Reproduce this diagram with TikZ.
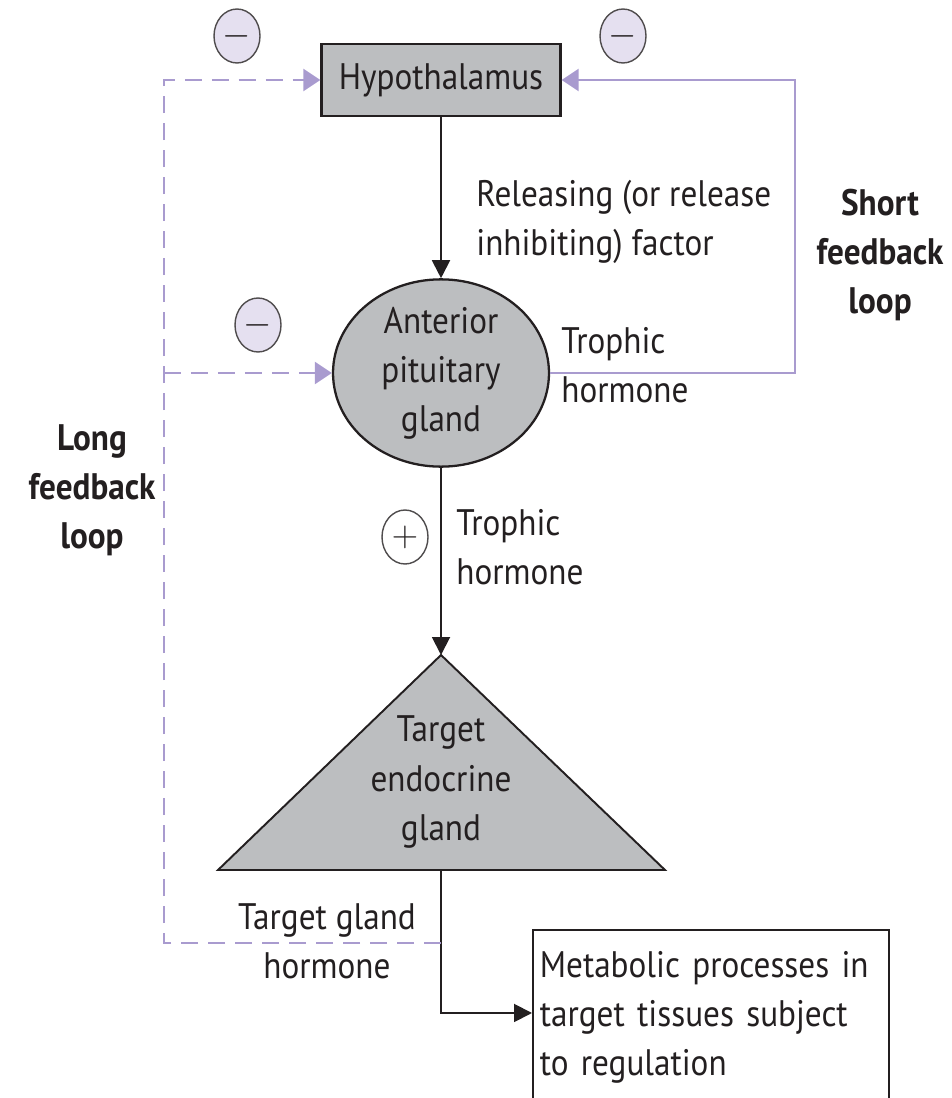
\documentclass[tikz,border=0pt]{standalone}
\usepackage{fontspec}
\setmainfont[FakeStretch=0.9]{PT Sans}
\usetikzlibrary{arrows.meta,positioning,shapes.geometric}

\definecolor{lilac}{HTML}{A99BCF}
\definecolor{lilacfill}{HTML}{E5E0F0}
\definecolor{glandgray}{HTML}{BCBEC0}
\definecolor{ink}{HTML}{231F20}

\begin{document}
\begin{tikzpicture}[x=0.02cm,y=-0.02cm,
        every node/.style={font=\fontsize{21}{28}\selectfont, text=ink},
        organ/.style={draw=ink, line width=1.3pt, fill=glandgray},
        sign/.style={ellipse, draw=ink!80, line width=0.8pt, fill=lilacfill,
            minimum width=0.92cm, minimum height=1.08cm, inner sep=0pt},
        stim/.style={draw=ink, line width=1.1pt, -{Triangle[length=0.36cm,width=0.36cm]}},
        fb/.style={draw=lilac, line width=1.2pt, -{Triangle[length=0.34cm,width=0.44cm]}},
        fbdash/.style={fb, dash pattern=on 0.34cm off 0.2cm},
        loopname/.style={align=center, font=\fontsize{21}{28}\selectfont\bfseries}]
    \clip (0,0) rectangle (951,1098);

    % glands
    \node[organ, minimum width=4.78cm, minimum height=1.44cm] (hyp) at (441,80) {Hypothalamus};
    \node[organ, ellipse, minimum width=4.32cm, minimum height=3.28cm, inner sep=0pt,
        align=center] (apg) at (441,373) {Anterior\\pituitary\\gland};
    \coordinate (apex) at (441,655);
    \coordinate (bl) at (218,870);
    \coordinate (br) at (665,870);
    \draw[organ, line width=1.1pt] (apex) -- (br) -- (bl) -- cycle;
    \coordinate (base) at (441,870);
    \node[align=center] (tgt) at (441,782) {Target\\endocrine\\gland};
    \node[draw=ink, line width=1pt, anchor=north west, text width=6.84cm, align=left,
        inner xsep=0.14cm, inner ysep=0.42cm, text depth=3cm] (meta) at (532,929)
        {Metabolic processes in\\target tissues subject\\to regulation};

    % signs
    \node[sign] (m1) at (237,36) {$-$};
    \node[sign] (m2) at (623,36) {$-$};
    \node[sign] (m3) at (258,325) {$-$};
    \node[sign, fill=white] (p1) at (405,537) {$+$};

    % labels
    \node[anchor=west, align=left, inner sep=0pt] (rel) at (476,222)
        {Releasing (or release\\inhibiting) factor};
    \node[anchor=west, align=left, inner sep=0pt] (tro1) at (561,365) {Trophic\\hormone};
    \node[anchor=west, align=left, inner sep=0pt] (tro2) at (456,547) {Trophic\\hormone};
    \node[align=center, inner sep=0pt] (tgh) at (327,941) {Target gland\\hormone};
    \node[loopname] (short) at (880,255) {Short\\feedback\\loop};
    \node[loopname] (long) at (92,490) {Long\\feedback\\loop};

    % main chain
    \draw[stim] (hyp) -- (apg);
    \draw[stim] (apg) -- (apex);
    \draw[stim] (base) |- ([yshift=-1.68cm]meta.north west);

    % feedback loops
    \coordinate (tap) at (441,943);
    \coordinate (lc) at (164,943);
    \coordinate (sc) at (795,80);
    \draw[fbdash] (tap) -- (lc) |- (hyp.west);
    \draw[fbdash] (lc |- apg.west) -- (apg.west);
    \draw[fb] (apg.east) -| (sc) -- (hyp.east);
\end{tikzpicture}
\end{document}
